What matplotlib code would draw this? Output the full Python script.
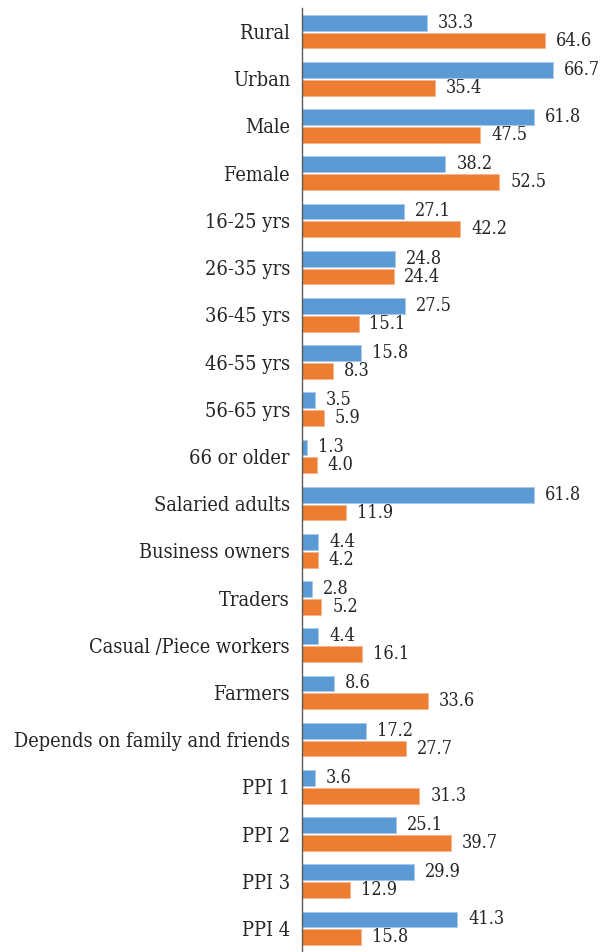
import numpy as np
import matplotlib
matplotlib.use("Agg")
import matplotlib.pyplot as plt
from matplotlib import font_manager

categories = ["Rural", "Urban", "Male", "Female", "16-25 yrs", "26-35 yrs",
              "36-45 yrs", "46-55 yrs", "56-65 yrs", "66 or older",
              "Salaried adults", "Business owners", "Traders",
              "Casual /Piece workers", "Farmers",
              "Depends on family and friends", "PPI 1", "PPI 2", "PPI 3", "PPI 4"]
blue_vals = [33.3, 66.7, 61.8, 38.2, 27.1, 24.8, 27.5, 15.8, 3.5, 1.3,
             61.8, 4.4, 2.8, 4.4, 8.6, 17.2, 3.6, 25.1, 29.9, 41.3]
orange_vals = [64.6, 35.4, 47.5, 52.5, 42.2, 24.4, 15.1, 8.3, 5.9, 4.0,
               11.9, 4.2, 5.2, 16.1, 33.6, 27.7, 31.3, 39.7, 12.9, 15.8]

BLUE = "#5B9BD5"
ORANGE = "#ED7D31"
TXT = "#262626"

# narrow serif for labels, falls back to the regular cut if missing
names = {f.name for f in font_manager.fontManager.ttflist}
if "DejaVu Serif Condensed" in names:
    FP = dict(family="DejaVu Serif Condensed")
else:
    FP = dict(family="DejaVu Serif", stretch="condensed")

W, H = 601, 952
fig = plt.figure(figsize=(W / 100, H / 100), dpi=100)
ax = fig.add_axes([301.7 / W, 0, 1 - 301.7 / W, (H - 8) / H])

y = np.arange(len(categories))
bh = 0.335
off = 0.19
ax.barh(y - off, blue_vals, height=bh, color=BLUE, edgecolor="#a9c9ea", linewidth=0.6)
ax.barh(y + off, orange_vals, height=bh, color=ORANGE, edgecolor="#f5b48e", linewidth=0.6)

for yi, v in zip(y, blue_vals):
    ax.text(v + 2.9, yi - off, f"{v:.1f}", va="center", ha="left",
            fontsize=13, color=TXT, **FP)
for yi, v in zip(y, orange_vals):
    ax.text(v + 2.9, yi + off, f"{v:.1f}", va="center", ha="left",
            fontsize=13, color=TXT, **FP)

ax.set_xlim(0, (W - 301.7) / 3.763)
ax.set_ylim(len(categories) - 0.5, -0.5)
ax.set_yticks(y)
ax.set_yticklabels(categories, fontsize=14.3, color=TXT, **FP)
ax.tick_params(axis="y", length=0, pad=8.5)
ax.set_xticks([])
for s in ("top", "right", "bottom"):
    ax.spines[s].set_visible(False)
ax.spines["left"].set_color("#595959")
ax.spines["left"].set_linewidth(1.0)

fig.savefig("out.png", dpi=100, facecolor="white")
